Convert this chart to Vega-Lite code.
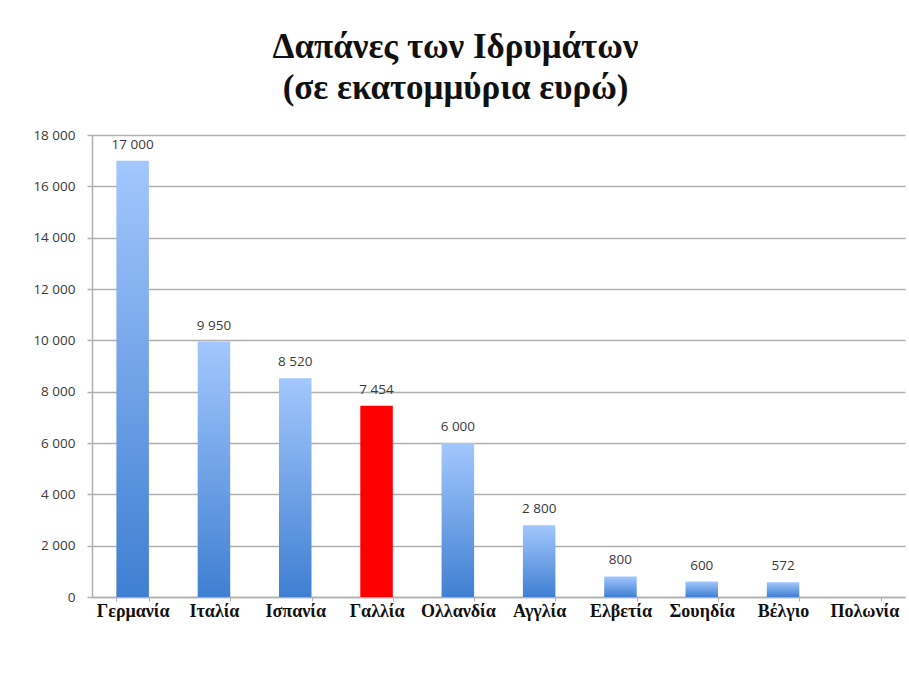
{
  "$schema": "https://vega.github.io/schema/vega-lite/v6.json",
  "width": 813,
  "height": 462,
  "autosize": {"type": "none"},
  "padding": {"left": 92, "top": 135, "right": 4, "bottom": 98},
  "background": "white",
  "title": {
    "text": ["Δαπάνες των Ιδρυμάτων", "(σε εκατομμύρια ευρώ)"],
    "font": "Liberation Serif",
    "fontSize": 35,
    "fontWeight": "bold",
    "color": "#111111",
    "lineHeight": 41,
    "anchor": "middle",
    "dx": -43,
    "offset": 22
  },
  "config": {
    "locale": {"number": {"decimal": ",", "thousands": " ", "grouping": [3], "currency": ["", " €"]}},
    "view": {"stroke": null},
    "axis": {"labelFont": "Open Sans", "labelColor": "#3a3a3a"}
  },
  "data": {
    "values": [
      {"country": "Γερμανία", "value": 17000},
      {"country": "Ιταλία", "value": 9950},
      {"country": "Ισπανία", "value": 8520},
      {"country": "Γαλλία", "value": 7454},
      {"country": "Ολλανδία", "value": 6000},
      {"country": "Αγγλία", "value": 2800},
      {"country": "Ελβετία", "value": 800},
      {"country": "Σουηδία", "value": 600},
      {"country": "Βέλγιο", "value": 572},
      {"country": "Πολωνία", "value": null}
    ]
  },
  "encoding": {
    "x": {
      "field": "country",
      "type": "nominal",
      "sort": null,
      "scale": {
        "domain": ["Γερμανία", "Ιταλία", "Ισπανία", "Γαλλία", "Ολλανδία", "Αγγλία", "Ελβετία", "Σουηδία", "Βέλγιο", "Πολωνία"],
        "paddingInner": 0.6,
        "paddingOuter": 0.3
      },
      "axis": {
        "title": null,
        "labelAngle": 0,
        "labelFont": "Liberation Serif",
        "labelFontWeight": "bold",
        "labelFontSize": 18,
        "labelColor": "#111111",
        "labelOverlap": false,
        "labelPadding": 1,
        "labelBound": false,
        "domainColor": "#b0b0b0",
        "domainWidth": 1.5,
        "tickColor": "#b0b0b0",
        "tickSize": 4,
        "tickBand": "extent"
      }
    },
    "y": {
      "field": "value",
      "type": "quantitative",
      "scale": {"domain": [0, 18000]},
      "axis": {
        "title": null,
        "values": [0, 2000, 4000, 6000, 8000, 10000, 12000, 14000, 16000, 18000],
        "format": ",d",
        "labelFontSize": 13.5,
        "labelPadding": 12,
        "gridColor": "#b0b0b0",
        "gridWidth": 1.5,
        "domainColor": "#b0b0b0",
        "domainWidth": 1.5,
        "tickColor": "#b0b0b0",
        "tickSize": 5,
        "tickWidth": 1.5
      }
    }
  },
  "layer": [
    {
      "transform": [{"filter": "datum.country !== 'Γαλλία' && datum.value != null"}],
      "mark": {
        "type": "bar",
        "color": {
          "gradient": "linear",
          "x1": 0, "y1": 0, "x2": 0, "y2": 1,
          "stops": [
            {"offset": 0, "color": "#a3c7fd"},
            {"offset": 1, "color": "#3f7fd2"}
          ]
        }
      }
    },
    {
      "transform": [{"filter": "datum.country === 'Γαλλία'"}],
      "mark": {"type": "bar", "color": "#ff0000"}
    },
    {
      "transform": [{"filter": "datum.value != null"}],
      "mark": {"type": "text", "dy": -16, "font": "Open Sans", "fontSize": 13.5, "color": "#3a3a3a"},
      "encoding": {"text": {"field": "value", "type": "quantitative", "format": ",d"}}
    }
  ]
}
